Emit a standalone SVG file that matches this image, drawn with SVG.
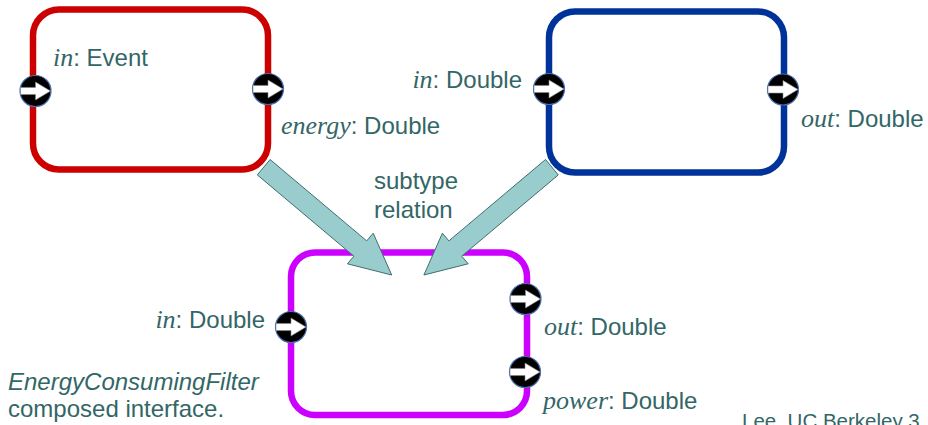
<svg xmlns="http://www.w3.org/2000/svg" xmlns:xlink="http://www.w3.org/1999/xlink" width="928" height="425" viewBox="0 0 928 425">
  <style>
    .box { fill: #ffffff; stroke-width: 6.5; }
    .txt { font-family: "Liberation Sans", Arial, sans-serif; font-size: 24px; fill: #336666; }
    .var { font-family: "Liberation Serif", "Times New Roman", serif; font-style: italic; font-size: 26px; }
    .subtype { fill: #99CCCC; stroke: #3F6E6E; stroke-width: 1; stroke-linejoin: miter; }
  </style>
  <defs>
    <!-- port glyph: black disc with a white right-pointing arrow -->
    <g id="port">
      <circle r="15.5" fill="#000000" stroke="#4A6FB0" stroke-width="1.2"/>
      <polygon points="-15,-3.6 0,-3.6 0,-9 15,0 0,9 0,3.6 -15,3.6" fill="#ffffff" stroke="#888888" stroke-width="0.6"/>
    </g>
  </defs>

  <g id="event-source">
    <rect class="box" x="33" y="9.5" width="235" height="160" rx="26" stroke="#CC0000"/>
    <use xlink:href="#port" x="35.5" y="91"/>
    <use xlink:href="#port" x="268" y="89"/>
    <text class="txt" x="53" y="66"><tspan class="var">in</tspan>: Event</text>
    <text class="txt" x="281" y="134"><tspan class="var">energy</tspan>: Double</text>
  </g>

  <g id="filter">
    <rect class="box" x="549" y="11.5" width="235" height="161" rx="26" stroke="#003399"/>
    <use xlink:href="#port" x="549" y="89"/>
    <use xlink:href="#port" x="783" y="89.5"/>
    <text class="txt" x="522" y="88" text-anchor="end"><tspan class="var">in</tspan>: Double</text>
    <text class="txt" x="801" y="127"><tspan class="var">out</tspan>: Double</text>
  </g>

  <g id="energy-consuming-filter">
    <rect class="box" x="291" y="252.5" width="236" height="162.5" rx="24" stroke="#CC00FF"/>
    <use xlink:href="#port" x="291" y="327"/>
    <use xlink:href="#port" x="525.5" y="299"/>
    <use xlink:href="#port" x="525" y="372"/>
    <text class="txt" x="265" y="328" text-anchor="end"><tspan class="var">in</tspan>: Double</text>
    <text class="txt" x="544" y="335"><tspan class="var">out</tspan>: Double</text>
    <text class="txt" x="543" y="409"><tspan class="var">power</tspan>: Double</text>
  </g>

  <g id="connectors">
    <polygon class="subtype" points="270.1,159.5 366.7,240.9 373.2,233.2 391.7,275 347.4,263.8 353.9,256.2 257.3,174.9"/>
    <polygon class="subtype" points="545.5,159.5 448.9,240.9 442.4,233.2 423.9,275 468.2,263.8 461.7,256.2 558.3,174.9"/>
    <text class="txt" x="374" y="189">subtype</text>
    <text class="txt" x="374" y="218">relation</text>
  </g>

  <g id="caption">
    <text class="txt" x="8" y="390" font-style="italic">EnergyConsumingFilter</text>
    <text class="txt" x="8" y="417">composed interface.</text>
    <text class="txt" x="742" y="428" style="font-size:20.5px">Lee, UC Berkeley 3</text>
  </g>
</svg>
